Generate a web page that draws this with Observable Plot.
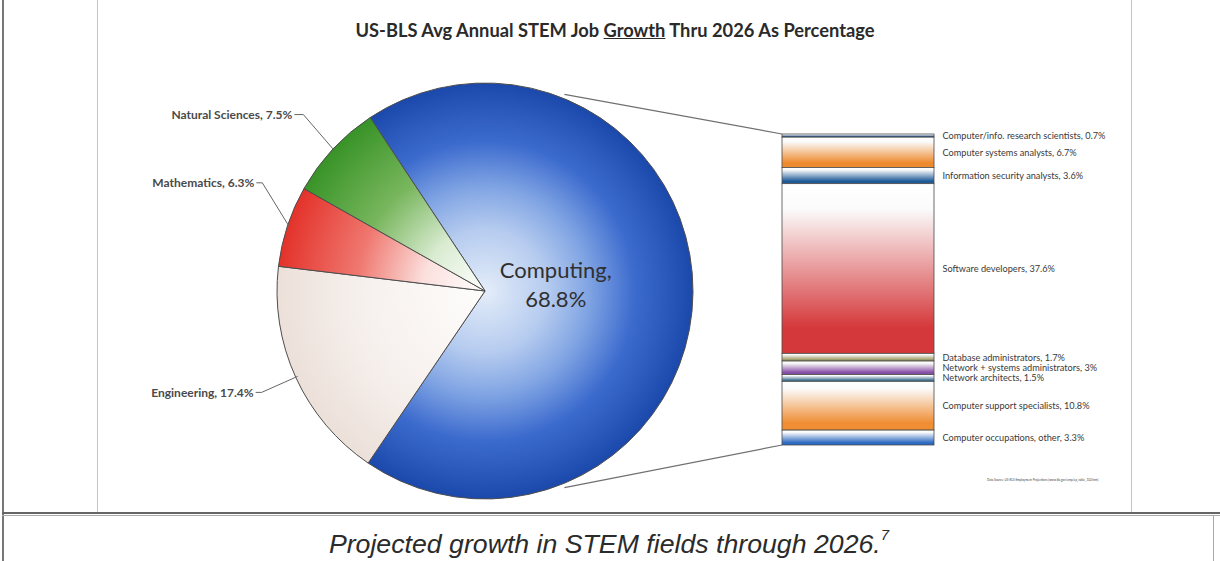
<!DOCTYPE html>
<html>
<head>
<meta charset="utf-8">
<script src="https://cdn.jsdelivr.net/npm/d3@7"></script>
<script src="https://cdn.jsdelivr.net/npm/@observablehq/plot@0.6"></script>
<style>
  html, body { margin: 0; padding: 0; background: #fff; }
  #wrap { position: relative; width: 1220px; height: 561px; overflow: hidden; background: #fff; }
  #chart { position: absolute; left: 0; top: 0; }
  #title { position: absolute; left: 0; top: 19px; width: 1230px; text-align: center;
    font-family: Lato, "Open Sans", sans-serif; font-weight: 700; font-size: 18.3px; color: #2a2a2a; }
  #caption { position: absolute; left: 0; top: 518px; width: 1218px; text-align: center;
    font-family: "Liberation Sans", Arial, sans-serif; font-style: italic; font-size: 26.7px; color: #2b2b2b; line-height: 40px; }
  #caption sup { font-size: 15px; position: relative; top: -3px; }
  #source { position: absolute; left: 987px; top: 478px; font-family: Lato, sans-serif; font-size: 3px; color: #444; white-space: nowrap; }
  .ln { position: absolute; }
</style>
</head>
<body>
<div id="wrap">
  <div id="chart"></div>
  <div id="title">US-BLS Avg Annual STEM Job <u>Growth</u> Thru 2026 As Percentage</div>
  <div id="source"></div>
  <div id="caption"></div>
  <div class="ln" style="left:2px;top:0;width:2px;height:561px;background:#777"></div>
  <div class="ln" style="left:97px;top:0;width:1px;height:513px;background:#c4c4c4"></div>
  <div class="ln" style="left:1131px;top:0;width:1px;height:513px;background:#c4c4c4"></div>
  <div class="ln" style="left:2px;top:512px;width:1218px;height:2px;background:#666"></div>
  <div class="ln" style="left:2px;top:515px;width:1218px;height:1px;background:#aaa"></div>
  <div class="ln" style="left:1213px;top:516px;width:1px;height:45px;background:#aaa"></div>
</div>
<script>
// ---------------- DATA ----------------
const fields = ["Computing", "Engineering", "Mathematics", "Natural Sciences"];
const fieldShares = [68.8, 17.4, 6.3, 7.5];

const computingJobs = [
  "Computer/info. research scientists",
  "Computer systems analysts",
  "Information security analysts",
  "Software developers",
  "Database administrators",
  "Network + systems administrators",
  "Network architects",
  "Computer support specialists",
  "Computer occupations, other"
];
const computingShares = [0.7, 6.7, 3.6, 37.6, 1.7, 3, 1.5, 10.8, 3.3];

const sourceText = "Data Source: US-BLS Employment Projections (www.bls.gov/emp/ep_table_102.htm)";
const captionText = "Projected growth in STEM fields through 2026.";
const captionNote = "7";

// ---------------- STYLES / LAYOUT ----------------
const pieGradients = {
  "Computing": [[0, "#e4edf9"], [0.3, "#b5cbef"], [0.5, "#80a4e3"], [0.72, "#3c6bce"], [1, "#1b49ab"]],
  "Engineering": [[0, "#fefdfc"], [0.6, "#f6f0ed"], [1, "#ece0d9"]],
  "Mathematics": [[0, "#ffffff"], [0.3, "#fbe0dd"], [0.62, "#ef776f"], [1, "#e3322a"]],
  "Natural Sciences": [[0, "#ffffff"], [0.3, "#d9ebd1"], [0.62, "#78b65d"], [1, "#389327"]]
};
const barColors = ["#1f4e85", "#ee8a2e", "#1e5a98", "#d5383a", "#9a9862", "#874ea6", "#3f6f8f", "#f08e34", "#2c69c2"];
const pie = { cx: 485, cy: 291, r: 208, startDeg: -33.5, connectorDeg: 22 };
// label anchor (right end of text, vertical middle) relative to the slice's edge point, and leader elbow length
const labelOffsets = {
  "Natural Sciences": [-42, -36, 9],
  "Mathematics": [-35, -44, 6],
  "Engineering": [-44, 16, 6]
};

// ---------------- BUILD ----------------
const fieldData = fields.map((name, i) => ({ name, share: fieldShares[i] }));
let acc = 0;
const barData = computingJobs.map((name, i) => {
  const y1 = acc; acc += computingShares[i];
  return { name, share: computingShares[i], y1, y2: acc, mid: (y1 + acc) / 2, idx: i,
           label: `${name}, ${computingShares[i]}%` };
});
const barTotal = acc;

function pieMark(index, scales) {
  const g = d3.create("svg:g");
  const defs = g.append("defs");
  fields.forEach((name, i) => {
    const rg = defs.append("radialGradient").attr("id", "pie-g-" + i)
      .attr("gradientUnits", "userSpaceOnUse").attr("cx", 0).attr("cy", 0).attr("r", pie.r);
    pieGradients[name].forEach(([o, c]) => rg.append("stop").attr("offset", o).attr("stop-color", c));
  });
  barColors.forEach((c, i) => {
    const lg = defs.append("linearGradient").attr("id", "bar-g-" + i)
      .attr("x1", 0).attr("y1", 0).attr("x2", 0).attr("y2", 1);
    lg.append("stop").attr("offset", 0).attr("stop-color", "#ffffff");
    lg.append("stop").attr("offset", 0.15).attr("stop-color", "#fbfbfb");
    lg.append("stop").attr("offset", 0.85).attr("stop-color", c);
    lg.append("stop").attr("offset", 1).attr("stop-color", c);
  });
  const s0 = pie.startDeg * Math.PI / 180;
  const arcs = d3.pie().sort(null).value(d => d.share).startAngle(s0).endAngle(s0 + 2 * Math.PI)(fieldData);
  const arc = d3.arc().innerRadius(0).outerRadius(pie.r);
  const pg = g.append("g").attr("transform", `translate(${pie.cx},${pie.cy})`);
  pg.selectAll("path").data(arcs).join("path")
    .attr("d", arc)
    .attr("fill", (d, i) => `url(#pie-g-${i})`)
    .attr("stroke", "#4d4d4d").attr("stroke-width", 1).attr("stroke-linejoin", "round");

  const pt = (ang, r) => [pie.cx + r * Math.sin(ang), pie.cy - r * Math.cos(ang)];
  arcs.forEach(a => {
    const name = a.data.name;
    const mid = (a.startAngle + a.endAngle) / 2;
    if (name === "Computing") {
      const [x, y] = pt(mid, pie.r * 0.34);
      const t = g.append("text").attr("x", x).attr("y", y).attr("text-anchor", "middle")
        .attr("font-family", "Lato, sans-serif").attr("font-size", 22).attr("fill", "#303030");
      t.append("tspan").attr("x", x).attr("dy", "-0.62em").text(name + ",");
      t.append("tspan").attr("x", x).attr("dy", "1.35em").text(a.data.share + "%");
      return;
    }
    const edge = pt(mid, pie.r * 0.99);
    const off = labelOffsets[name];
    const ax = edge[0] + off[0], ay = edge[1] + off[1];
    g.append("path").attr("fill", "none").attr("stroke", "#666").attr("stroke-width", 1)
      .attr("d", `M${ax + 2},${ay}L${ax + 2 + off[2]},${ay}L${edge[0]},${edge[1]}`);
    g.append("text").attr("x", ax).attr("y", ay).attr("dy", "0.35em").attr("text-anchor", "end")
      .attr("font-family", "Lato, sans-serif").attr("font-weight", 700).attr("font-size", 12)
      .attr("fill", "#4a4a4a").text(`${name}, ${a.data.share}%`);
  });
  const ca = pie.connectorDeg * Math.PI / 180;
  const top = pt(ca, pie.r + 4), bot = pt(Math.PI - ca, pie.r + 4);
  const bx = scales.x(0), byTop = scales.y(0), byBot = scales.y(barTotal);
  g.append("path").attr("fill", "none").attr("stroke", "#707070").attr("stroke-width", 1.2)
    .attr("d", `M${top[0]},${top[1]}L${bx},${byTop}M${bot[0]},${bot[1]}L${bx},${byBot}`);
  return g.node();
}

const chart = Plot.plot({
  width: 1220,
  height: 512,
  margin: 0,
  style: { background: "transparent", overflow: "visible" },
  x: { type: "linear", domain: [0, 1], range: [782, 934], axis: null },
  y: { type: "linear", domain: [0, barTotal], range: [134, 445], axis: null },
  color: { type: "identity" },
  marks: [
    pieMark,
    Plot.rect(barData, {
      x1: () => 0, x2: () => 1, y1: "y1", y2: "y2",
      fill: d => `url(#bar-g-${d.idx})`,
      stroke: "#4a4a4a", strokeWidth: 0.8
    }),
    Plot.text(barData, {
      x: () => 1, y: "mid", text: "label", textAnchor: "start", dx: 8,
      fontSize: 9.2, fill: "#3a3a3a", fontFamily: "Lato, sans-serif"
    })
  ]
});
document.getElementById("chart").appendChild(chart);
document.getElementById("source").textContent = sourceText;
document.getElementById("caption").innerHTML = captionText + "<sup>" + captionNote + "</sup>";
</script>
</body>
</html>
